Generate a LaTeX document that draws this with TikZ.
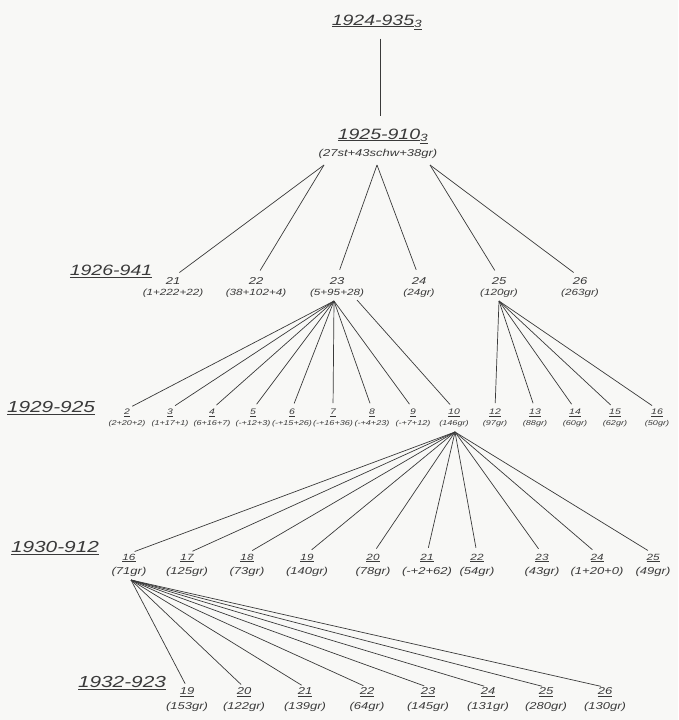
\documentclass[tikz,border=0pt]{standalone}
\usepackage{fontspec}
\newfontfamily\hand{Liberation Sans}[FakeStretch=1.3]
\newcommand\hsz[1]{\hand\itshape\fontsize{#1}{#1}\selectfont}
\definecolor{ink}{HTML}{3A3A3A}
\definecolor{paper}{HTML}{F8F8F6}
\begin{document}
\begin{tikzpicture}[x=1pt,y=-1pt,
  edge/.style={draw=ink, line width=0.7pt},
  txt/.style={text=ink, inner sep=0pt},
  lvl/.style={txt, font=\hsz{16}},
  numA/.style={txt, font=\hsz{10}}, parA/.style={txt, font=\hsz{9}},
  numB/.style={txt, font=\hsz{8}}, parB/.style={txt, font=\hsz{7}},
  numC/.style={txt, font=\hsz{9}}, parC/.style={txt, font=\hsz{10}},
  numD/.style={txt, font=\hsz{10}}, parD/.style={txt, font=\hsz{10}}]
\fill[paper] (0,0) rectangle (678,720);
\path[use as bounding box] (0,0) rectangle (678,720);

% top
\node[txt, font=\hsz{15}] (top) at (377,22) {\underline{1924-935}\textsubscript{\underline{3}}};
\node[txt, font=\hsz{15}] (y1925) at (383,136) {\underline{1925-910}\textsubscript{\underline{3}}};
\node[txt, font=\hsz{10}] (q1925) at (378,154) {(27st+43schw+38gr)};
\draw[edge, shorten <=9pt, shorten >=12pt] (top.south -| 380,0) -- (y1925.north -| 380,0);

% level labels
\node[lvl, font=\hsz{15}] (L1926) at (111,271) {\underline{1926-941}};
\node[lvl] (L1929) at (51,408) {\underline{1929-925}};
\node[lvl] (L1930) at (55,548) {\underline{1930-912}};
\node[lvl] (L1932) at (122,683) {\underline{1932-923}};

% level A (1926)
\foreach \n/\x/\p in {21/173/{(1+222+22)},22/256/{(38+102+4)},23/337/{(5+95+28)},24/419/{(24gr)},25/499/{(120gr)},26/580/{(263gr)}}{
  \node[numA] (A\n) at (\x,281) {\n};
  \node[parA] (pA\n) at (\x,293) {\p};
}
% level B (1929)
\foreach \n/\x/\p in {2/127/{(2+20+2)},3/170/{(1+17+1)},4/212/{(6+16+7)},5/253/{(-+12+3)},6/292/{(-+15+26)},7/333/{(-+16+36)},8/372/{(-+4+23)},9/413/{(-+7+12)},10/454/{(146gr)},12/495/{(97gr)},13/535/{(88gr)},14/575/{(60gr)},15/615/{(62gr)},16/657/{(50gr)}}{
  \node[numB] (B\n) at (\x,413) {\underline{\n}};
  \node[parB] (pB\n) at (\x,424) {\p};
}
% level C (1930)
\foreach \n/\x/\p in {16/129/{(71gr)},17/187/{(125gr)},18/247/{(73gr)},19/307/{(140gr)},20/373/{(78gr)},21/427/{(-+2+62)},22/477/{(54gr)},23/542/{(43gr)},24/597/{(1+20+0)},25/653/{(49gr)}}{
  \node[numC] (C\n) at (\x,558) {\underline{\n}};
  \node[parC] (pC\n) at (\x,572) {\p};
}
% level D (1932)
\foreach \n/\x/\p in {19/187/{(153gr)},20/244/{(122gr)},21/305/{(139gr)},22/367/{(64gr)},23/428/{(145gr)},24/488/{(131gr)},25/546/{(280gr)},26/605/{(130gr)}}{
  \node[numD] (D\n) at (\x,692) {\underline{\n}};
  \node[parD] (pD\n) at (\x,707) {\p};
}

% hubs
\coordinate (hL) at (324,165);
\coordinate (hC) at (377,165);
\coordinate (hR) at (430,165);
\coordinate (hA23) at (334,301);
\coordinate (hA23r) at (357,300);
\coordinate (hA25) at (499,301);
\coordinate (hB10) at (455,432);
\coordinate (hC16) at (131,580);

% edges
\draw[edge, shorten >=8pt] (hL) -- (A21.north);
\draw[edge, shorten >=8pt] (hL) -- (A22.north);
\draw[edge, shorten >=8pt] (hC) -- (A23.north);
\draw[edge, shorten >=8pt] (hC) -- (A24.north);
\draw[edge, shorten >=8pt] (hR) -- (A25.north);
\draw[edge, shorten >=8pt] (hR) -- (A26.north);
\foreach \n in {2,3,4,5,6,7,8,9}{\draw[edge, shorten >=6pt] (hA23) -- (B\n.north);}
\draw[edge, shorten >=6pt] (hA23r) -- (B10.north);
\foreach \n in {12,13,14,15,16}{\draw[edge, shorten >=6pt] (hA25) -- (B\n.north);}
\foreach \n in {16,17,18,19,20,21,22,23,24,25}{\draw[edge, shorten >=6pt] (hB10) -- (C\n.north);}
\foreach \n in {19,20,21,22,23,24,25,26}{\draw[edge, shorten >=4pt] (hC16) -- (D\n.north);}
\end{tikzpicture}
\end{document}
